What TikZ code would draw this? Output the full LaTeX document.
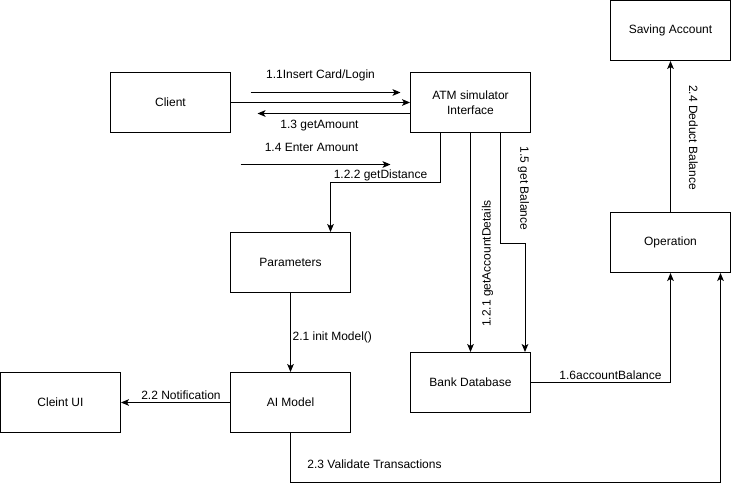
\documentclass[tikz,border=0pt]{standalone}
\usepackage{fontspec}
\setmainfont{Liberation Sans}
\usetikzlibrary{arrows.meta}
\begin{document}
\begin{tikzpicture}[x=0.75pt,y=-0.75pt,line width=0.75pt,>={Stealth[length=6pt,width=5pt,inset=1.5pt]},
    main node/.style={rectangle,draw,minimum width=90pt,minimum height=45pt,align=center,font=\fontsize{9pt}{11pt}\selectfont},
    lbl/.style={font=\fontsize{9pt}{11pt}\selectfont,inner sep=0pt}]
    \useasboundingbox (-0.5,-0.5) rectangle (730.5,490.5);
    \node[main node] at (170,102) (client) {Client};
    \node[main node] at (470,102) (atm) {ATM simulator\\Interface};
    \node[main node] at (670,30) (saving) {Saving Account};
    \node[main node] at (670,242) (operation) {Operation};
    \node[main node] at (290,262) (params) {Parameters};
    \node[main node] at (290,402) (aimodel) {AI Model};
    \node[main node] at (60,402) (cleintui) {Cleint UI};
    \node[main node] at (470,382) (bankdb) {Bank Database};
    \coordinate (login a) at (250,92);
    \coordinate (login b) at (400,92);
    \coordinate (amount end) at (257,113);
    \coordinate (enter a) at (240,164);
    \coordinate (enter b) at (390,164);
    \coordinate (dist bend) at (440,182);
    \coordinate (bal bend) at (500,243);
    \coordinate (valid bend) at (720,482);

    \path[->] (client) edge (atm);
    \draw[->] (login a) -- (login b) node[lbl] at (320,75) {1.1Insert Card/Login};
    \draw[->] (atm.west |- amount end) -- (amount end) node[lbl] at (319,125) {1.3 getAmount};
    \draw[->] (enter a) -- (enter b) node[lbl] at (311,147) {1.4 Enter Amount};
    \draw[->] (atm.south -| dist bend) -- (dist bend) -| ([xshift=30pt]params.north) node[lbl] at (380,175) {1.2.2 getDistance};
    \draw[->] (atm) -- (bankdb) node[lbl,rotate=90] at (487,263) {1.2.1 getAccountDetails};
    \draw[->] (atm.south -| bal bend) -- (bal bend) -| ([xshift=-4.5pt]bankdb.north east) node[lbl,rotate=-90] at (523,188) {1.5 get Balance};
    \draw[->] (bankdb.east) -| (operation.south) node[lbl] at (610,375) {1.6accountBalance};
    \draw[->] (aimodel.south) |- (valid bend) -- (valid bend |- operation.south) node[lbl] at (374,464) {2.3 Validate Transactions};
    \draw[->] (operation) -- (saving) node[lbl,rotate=-90] at (693,137) {2.4 Deduct Balance};
    \path[->] (params) edge node[lbl,right,pos=0.56,inner sep=1.2pt] {2.1 init Model()} (aimodel);
    \path[->] (aimodel) edge node[lbl,above,pos=0.45,inner sep=2pt] {2.2 Notification} (cleintui);
\end{tikzpicture}
\end{document}
